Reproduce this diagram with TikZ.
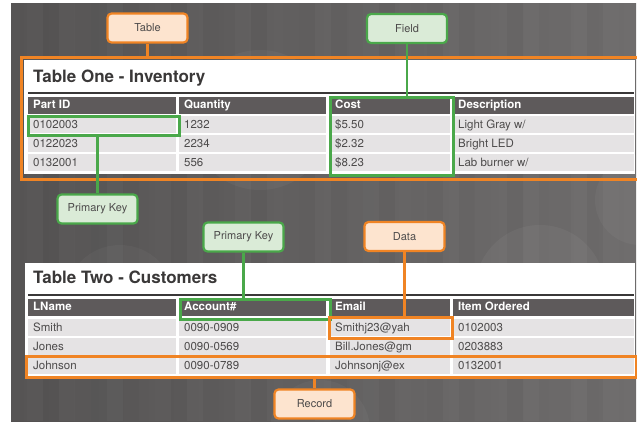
\documentclass[tikz,border=0pt]{standalone}
\usepackage{fontspec}
\setmainfont{TeX Gyre Heros}
\definecolor{bgL}{HTML}{535151}
\definecolor{bgR}{HTML}{6C6A6A}
\definecolor{hdrc}{HTML}{5E5A5B}
\definecolor{rowc}{HTML}{E5E3E4}
\definecolor{titlec}{HTML}{3A3838}
\definecolor{txtc}{HTML}{4D4B4B}
\definecolor{orC}{HTML}{F08424}
\definecolor{grC}{HTML}{4AA84A}
\definecolor{orL}{HTML}{FDE4CF}
\definecolor{grL}{HTML}{DAEBD7}
\tikzset{
  hdrtext/.style={anchor=base west, inner sep=0pt, text=white, font=\fontsize{11.5}{13}\selectfont\bfseries},
  rowtext/.style={anchor=base west, inner sep=0pt, text=txtc, font=\fontsize{11.5}{13}\selectfont},
  titletext/.style={anchor=base west, inner sep=0pt, text=titlec, font=\fontsize{17}{20}\selectfont\bfseries},
  hlbox/.style={draw, line width=2.5pt, anchor=north west, inner sep=0pt, minimum width=#1},
  hlg/.style={hlbox=#1, draw=grC},
  hlo/.style={hlbox=#1, draw=orC},
  lbl/.style={rounded corners=4pt, line width=2.2pt, minimum width=80pt, minimum height=29pt, inner sep=0pt, text=txtc, font=\fontsize{11}{13}\selectfont},
  lblo/.style={lbl, draw=orC, fill=orL},
  lblg/.style={lbl, draw=grC, fill=grL},
  olink/.style={draw=orC, line width=2.4pt},
  glink/.style={draw=grC, line width=2.4pt}
}
\newcommand\mkhcell[5]{%
  \fill[hdrc] (#2,#3) rectangle ++(#4,17);
  \node[hdrtext] (#1) at (#2+5,#3+11.5) {#5};}
\newcommand\mkrcell[5]{%
  \fill[rowc] (#2,#3) rectangle ++(#4,17);
  \node[rowtext] (#1) at (#2+5,#3+12) {#5};}
\begin{document}
\begin{tikzpicture}[x=1pt,y=-1pt]
\useasboundingbox (0,0) rectangle (637,421);
\clip (0,0) rectangle (637,421);
\fill[white] (0,0) rectangle (637,421);
% background
\shade[left color=bgL, right color=bgR] (11,3) rectangle (636,421);
\foreach \i in {0,...,39}{
  \pgfmathsetmacro\op{0.02+0.016*sin(\i*137)}
  \fill[white, opacity=\op] (11+16*\i,3) rectangle ++(16,418);
}
\fill[white, opacity=0.04] (260,120) circle (70);
\fill[white, opacity=0.045] (540,290) circle (65);
\fill[white, opacity=0.035] (640,200) circle (45);
\fill[white, opacity=0.035] (320,430) circle (50);
\fill[white, opacity=0.035] (120,300) circle (55);

% ---------- Table One ----------
\fill[white] (24,60) rectangle (635,174);
\node[titletext] (t1title) at (33,82) {Table One - Inventory};
\draw[titlec, line width=2pt] (28,93) -- (634,93);
\mkhcell{t1h1}{28}{97}{148}{Part ID}
\mkhcell{t1h2}{179}{97}{147}{Quantity}
\mkhcell{t1h3}{330}{97}{120}{Cost}
\mkhcell{t1h4}{453}{97}{181}{Description}
\mkrcell{t1a1}{28}{116}{148}{0102003}
\mkrcell{t1a2}{179}{116}{147}{1232}
\mkrcell{t1a3}{330}{116}{120}{\$5.50}
\mkrcell{t1a4}{453}{116}{181}{Light Gray w/}
\mkrcell{t1b1}{28}{135}{148}{0122023}
\mkrcell{t1b2}{179}{135}{147}{2234}
\mkrcell{t1b3}{330}{135}{120}{\$2.32}
\mkrcell{t1b4}{453}{135}{181}{Bright LED}
\mkrcell{t1c1}{28}{154}{148}{0132001}
\mkrcell{t1c2}{179}{154}{147}{556}
\mkrcell{t1c3}{330}{154}{120}{\$8.23}
\mkrcell{t1c4}{453}{154}{181}{Lab burner w/}

\node[hlo=660pt, minimum height=122pt] (t1frame) at (20,56) {};
\node[hlg=151pt, minimum height=19pt] (pkbox1) at (27,115) {};
\node[hlg=123pt, minimum height=78pt] (costbox) at (329,96) {};

% ---------- Table Two ----------
\fill[white] (25,263) rectangle (635,377);
\node[titletext] (t2title) at (33,283) {Table Two - Customers};
\draw[titlec, line width=2pt] (28,294.5) -- (634,294.5);
\mkhcell{t2h1}{28}{299}{148}{LName}
\mkhcell{t2h2}{179}{299}{147}{Account\#}
\mkhcell{t2h3}{330}{299}{120}{Email}
\mkhcell{t2h4}{453}{299}{181}{Item Ordered}
\mkrcell{t2a1}{28}{319}{148}{Smith}
\mkrcell{t2a2}{179}{319}{147}{0090-0909}
\mkrcell{t2a3}{330}{319}{120}{Smithj23@yah}
\mkrcell{t2a4}{453}{319}{181}{0102003}
\mkrcell{t2b1}{28}{338}{148}{Jones}
\mkrcell{t2b2}{179}{338}{147}{0090-0569}
\mkrcell{t2b3}{330}{338}{120}{Bill.Jones@gm}
\mkrcell{t2b4}{453}{338}{181}{0203883}
\mkrcell{t2c1}{28}{357}{148}{Johnson}
\mkrcell{t2c2}{179}{357}{147}{0090-0789}
\mkrcell{t2c3}{330}{357}{120}{Johnsonj@ex}
\mkrcell{t2c4}{453}{357}{181}{0132001}

\node[hlg=150pt, minimum height=20pt] (accbox) at (179,298) {};
\node[hlo=123pt, minimum height=21pt] (emailbox) at (328,316) {};
\node[hlo=610pt, minimum height=21pt] (recbox) at (25,355) {};

% ---------- labels ----------
\node[lblo] (ltable) at (147.5,28) {Table};
\node[lblg] (lfield) at (407,28.5) {Field};
\node[lblg] (lpk1) at (97.5,209) {Primary Key};
\node[lblg] (lpk2) at (243.5,237) {Primary Key};
\node[lblo] (ldata) at (404.5,236.5) {Data};
\node[lblo] (lrec) at (314.5,404) {Record};

\draw[olink] (ltable.south) -- (ltable.south |- t1frame.north);
\draw[glink] (lfield.south) -- (lfield.south |- costbox.north);
\draw[glink] (lpk1.north) -- (lpk1.north |- pkbox1.south);
\draw[glink] (lpk2.south) -- (lpk2.south |- accbox.north);
\draw[olink] (ldata.south) -- (ldata.south |- emailbox.north);
\draw[olink] (lrec.north) -- (lrec.north |- recbox.south);
\end{tikzpicture}
\end{document}
